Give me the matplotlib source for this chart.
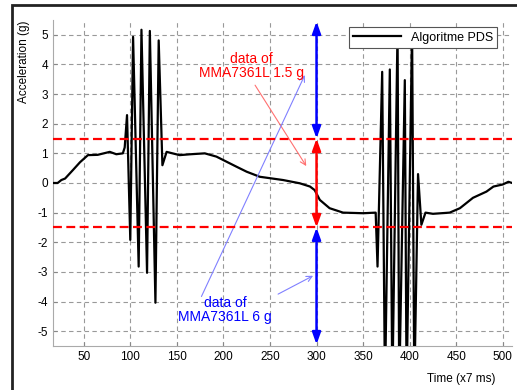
import numpy as np
import matplotlib.pyplot as plt
from matplotlib.patches import Rectangle

plt.rcParams['font.family'] = ['Liberation Sans', 'DejaVu Sans']
plt.rcParams['axes.unicode_minus'] = False

# Señal (tiempo en unidades de 7 ms, aceleración en g)
tiempo = [17, 22, 26, 30, 38.5, 46, 54.5, 65, 78, 85, 92, 94, 96.5,
          100, 103, 109, 112, 118, 121, 127, 130.5, 134.5, 139, 153, 165, 180,
          192.5, 214, 225, 239, 264, 282, 293, 298, 303.5, 314, 328.5, 350,
          363.5, 365.5, 370.5, 373.5, 378.7, 381.4, 387, 388.8, 394.8, 396.7,
          402.6, 405, 409, 412.6, 417, 425, 443, 454, 468, 482.5, 490, 500,
          506, 510]
aceleracion = [0.0, 0.0, 0.1, 0.15, 0.44, 0.7, 0.94, 0.95, 1.05, 0.97, 1.0, 1.2, 2.29,
               -1.92, 4.93, -2.82, 5.17, -3.03, 5.13, -4.04, 4.81, 0.6, 1.05, 0.94, 0.97, 1.0,
               0.89, 0.55, 0.38, 0.21, 0.1, -0.01, -0.12, -0.24, -0.57, -0.85, -1.0, -1.02,
               -1.0, -2.82, 3.75, -7.0, 3.83, -7.0, 5.2, -7.0, 3.47, -7.0,
               5.2, -7.0, 0.3, -1.41, -1.0, -1.04, -1.0, -0.85, -0.5, -0.29, -0.12, -0.05,
               0.04, 0.0]

umbral = 1.5        # rango del MMA7361L a 1.5 g
limite = 5.45       # extremo del rango a 6 g visible
x_flecha = 300

x_ticks = np.arange(50, 501, 50)
y_ticks = np.arange(-5, 6, 1)

fig = plt.figure(figsize=(5.17, 3.9), dpi=100)
ax = fig.add_axes([0.1025, 0.1128, 0.888, 0.836])

# Marco negro de la figura
fig.patches.append(Rectangle((0.023, -0.2), 1.2, 1.187, transform=fig.transFigure,
                             fill=False, lw=2, ec='#222222', zorder=0))

ax.plot(tiempo, aceleracion, color='black', lw=1.6, label='Algoritme PDS', zorder=3)

# Umbrales de ±1.5 g
for v in (umbral, -umbral):
    ax.axhline(v, color='red', lw=1.6, ls=(0, (4, 2)), zorder=4)

# Flechas verticales en t = 300
estilo = '<|-|>,head_width=0.25,head_length=0.7'
ax.annotate('', xy=(x_flecha, -umbral), xytext=(x_flecha, umbral),
            arrowprops=dict(arrowstyle=estilo, color='red', lw=1.8, shrinkA=0, shrinkB=0), zorder=5)
ax.annotate('', xy=(x_flecha, limite), xytext=(x_flecha, umbral),
            arrowprops=dict(arrowstyle=estilo, color='blue', lw=1.8, shrinkA=0, shrinkB=0), zorder=5)
ax.annotate('', xy=(x_flecha, -limite), xytext=(x_flecha, -umbral),
            arrowprops=dict(arrowstyle=estilo, color='blue', lw=1.8, shrinkA=0, shrinkB=0), zorder=5)

# Textos y flechas finas
ax.text(230.5, 3.96, 'data of\nMMA7361L 1.5 g', color='red', fontsize=10,
        ha='center', va='center', linespacing=1.0, zorder=6)
ax.annotate('', xy=(289, 0.57), xytext=(234, 3.3),
            arrowprops=dict(arrowstyle='->', color='#ff7070', lw=0.8, shrinkA=0, shrinkB=0))

ax.text(202, -4.29, 'data of\nMMA7361L 6 g', color='blue', fontsize=10,
        ha='center', va='center', linespacing=1.0, zorder=6)
ax.annotate('', xy=(287.4, 3.64), xytext=(176.4, -3.83),
            arrowprops=dict(arrowstyle='->', color='#8080ff', lw=0.8, shrinkA=0, shrinkB=0))
ax.annotate('', xy=(296.3, -3.13), xytext=(258.7, -3.75),
            arrowprops=dict(arrowstyle='->', color='#8080ff', lw=0.8, shrinkA=0, shrinkB=0))

ax.set_xlim(17, 510)
ax.set_ylim(-5.5, 5.5)
ax.set_xticks(x_ticks)
ax.set_yticks(y_ticks)
ax.tick_params(direction='in', length=3, labelsize=8.5, color='#888888')
ax.grid(True, color='#999999', ls=(0, (4, 3)), lw=0.8)
ax.set_axisbelow(True)

for lado in ('top', 'right'):
    ax.spines[lado].set_visible(False)
for lado in ('left', 'bottom'):
    ax.spines[lado].set_color('#aaaaaa')

ax.set_xlabel('Time (x7 ms)', fontsize=8.5)
ax.xaxis.set_label_coords(0.889, -0.083)
ax.set_ylabel('Acceleration (g)', fontsize=8.5)
ax.yaxis.set_label_coords(-0.05, 0.871)

leg = ax.legend(loc='upper right', bbox_to_anchor=(0.968, 0.978),
                bbox_transform=ax.transAxes, fontsize=9,
                fancybox=False, framealpha=1, edgecolor='#555555', handlelength=3.8,
                borderaxespad=0, borderpad=0.35)
leg.get_frame().set_linewidth(0.8)
leg.set_zorder(10)

fig.savefig('out.png', dpi=100)
